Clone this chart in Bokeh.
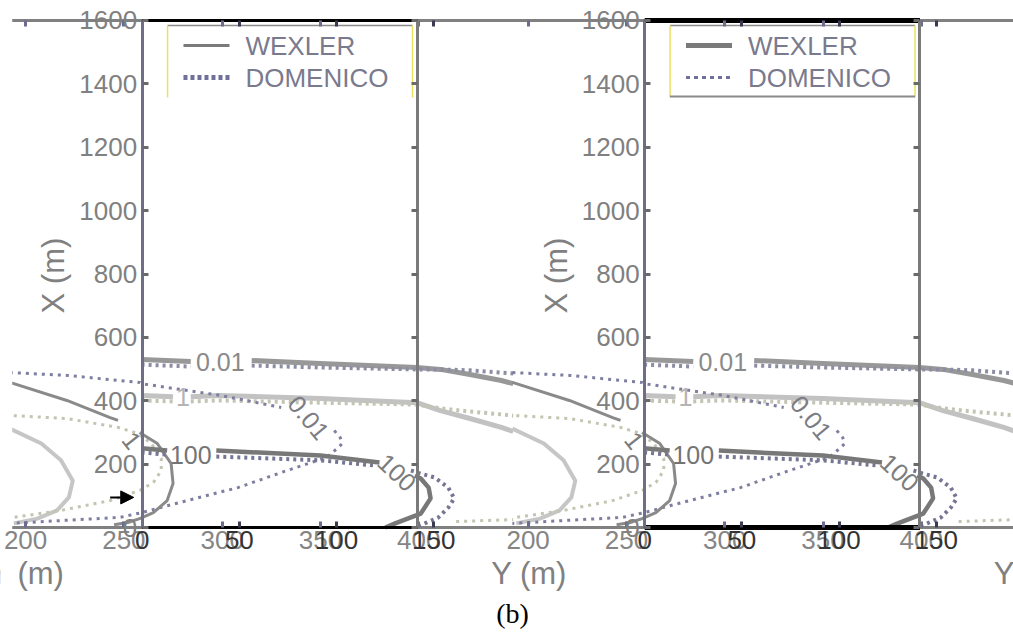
import numpy as np
from bokeh.plotting import figure
from bokeh.models import Range1d, LinearAxis, FixedTicker, Arrow, NormalHead
from bokeh.core.properties import value
from bokeh.embed import file_html
from bokeh.resources import INLINE

nan = float("nan")

# ---------------- data (horizontal = Y (m), vertical = X (m)) ----------------
y_ticks = [0, 200, 400, 600, 800, 1000, 1200, 1400, 1600]
gray_x_ticks = [200, 250, 300, 350, 400]
black_x_ticks = [0, 50, 100, 150]

# WEXLER contours (solid)
wex_001_Y = [259, 284, nan, 315, 350, 399, 411, 426, 442, 448]
wex_001_X = [530, 524, nan, 527, 518, 505, 499, 483, 464, 454]
wex_1_Y = [259, 275, nan, 284, 298, 350, 399, 411, 426, 442, 448]
wex_1_X = [417, 413, nan, 413, 417, 407, 394, 369, 344, 316, 303]
wex_100_Y = [259, 272, nan, 297, 350, 380, nan, 398, 401, 405, 406, 401, 388, 383]
wex_100_X = [250, 243, nan, 243, 227, 205, nan, 164, 155, 126, 92, 44, 13, 0]
wex_1c_Y = [192, 221, 243, 247, nan, 258, 267, 274, 275, 272, 265, 258, 252, 245]
wex_1c_X = [458, 401, 347, 338, nan, 300, 265, 202, 139, 85, 47, 28, 16, 9]
wex_lc_Y = [192, 208, 218, 224, 222, 216, 206, 194]
wex_lc_X = [312, 265, 212, 148, 95, 54, 28, 13]

# DOMENICO contours (dotted)
dom_001_Y = [259, 284, nan, 315, 350, 399, 411, 426, 442, 448]
dom_001_X = [514, 508, nan, 511, 505, 499, 499, 496, 489, 486]
dom_1_Y = [259, 275, nan, 284, 298, 350, 399, 411, 426, 442, 448]
dom_1_X = [401, 398, nan, 398, 401, 394, 388, 376, 366, 357, 353]
dom_100_Y = [259, 272, nan, 297, 350, 377, nan, 396, 401, 408, 415, 418, 415, 410, 403, 398]
dom_100_X = [237, 230, nan, 224, 212, 196, nan, 180, 170, 158, 126, 92, 63, 32, 13, 0]
dom_loop_Y = [192, 221, 258, 259, 299, 330, nan, 357, 360, 361, 359, 353, 333, 308, 282, 259, 248, 218, 192]
dom_loop_X = [489, 480, 458, 454, 417, 379, nan, 306, 284, 265, 252, 221, 180, 126, 85, 47, 32, 22, 13]
dom_lc_Y = [194, 221, 247, 257, 264, 269, 269, 265, 258, 243, 218, 194, nan, 419, 448]
dom_lc_X = [353, 344, 316, 297, 265, 218, 180, 142, 117, 85, 54, 32, nan, 19, 25]

# contour labels
lab_text = ["0.01", "1", "100", "0.01", "100", "1"]
lab_Y = [299, 280, 284, 344, 389, 254]
lab_X = [521, 413, 230, 347, 174, 275]
lab_angle = [0, 0, 0, -0.88, -0.75, -0.9]
lab_color = ["#8a8a8a", "#b4b4b4", "#747474", "#7c7c84", "#7c7c7c", "#7c7c7c"]

# arrow
arrow_Y = [243, 255]
arrow_X = [95, 95]

legend_names = ["WEXLER", "DOMENICO"]

# ---------------- layout constants ----------------
X0, X1 = 187.23, 702.49          # visible Y-range (gray scale)
V0, V1 = -340.7, 1663.1          # visible X-range
OFF = 255.6                      # shift between the two repeated panels
FRAME_L, FRAME_R = 259.3, 399.3
B_START, B_END, B_SHIFT = -72.93, 448.4, 258.6
FONT = "Liberation Sans"
FS = "26px"
TS = "31px"

p = figure(width=1013, height=635, x_range=Range1d(X0, X1), y_range=Range1d(V0, V1),
           output_backend="svg", toolbar_location=None,
           x_axis_location=None, y_axis_location=None, min_border=0,
           outline_line_color=None, background_fill_color="white")
p.xgrid.visible = False
p.ygrid.visible = False

p.extra_x_ranges = {
    "g0": Range1d(X0, X1), "g1": Range1d(X0 - OFF, X1 - OFF),
    "b0": Range1d(B_START, B_END), "b1": Range1d(B_START - B_SHIFT, B_END - B_SHIFT),
}

def arr(a, off=0.0):
    return np.array(a, dtype=float) + off

# long gray top / bottom lines
p.segment(x0=[192.3, 192.3], y0=[0, 1600], x1=[X1, X1], y1=[0, 1600],
          line_color="#808080", line_width=3)

for k in (0, 1):
    o = k * OFF
    # light contours first
    p.line(arr(wex_lc_Y, o), arr(wex_lc_X), line_color="#c6c6c6", line_width=4)
    p.line(arr(wex_1_Y, o), arr(wex_1_X), line_color="#c2c2c2", line_width=5)
    p.line(arr(dom_lc_Y, o), arr(dom_lc_X), line_color="#c4c4b0", line_width=3, line_dash="3 5")
    p.line(arr(dom_1_Y, o), arr(dom_1_X), line_color="#c4c4b4", line_width=4, line_dash="3 4")
    # medium / dark contours
    p.line(arr(wex_001_Y, o), arr(wex_001_X), line_color="#989898", line_width=5)
    p.line(arr(dom_001_Y, o), arr(dom_001_X), line_color="#8c8ca4", line_width=4, line_dash="3 4")
    p.line(arr(dom_loop_Y, o), arr(dom_loop_X), line_color="#7e7ea0", line_width=3, line_dash="3 5")
    p.line(arr(wex_1c_Y, o), arr(wex_1c_X), line_color="#8a8a8a", line_width=3)
    p.line(arr(dom_100_Y, o), arr(dom_100_X), line_color="#767694", line_width=4, line_dash="3 4")
    p.line(arr(wex_100_Y, o), arr(wex_100_X), line_color="#787878", line_width=4.5)

    # contour labels
    p.text(x=arr(lab_Y, o), y=arr(lab_X), text=lab_text, angle=lab_angle,
           text_color=lab_color, text_font=value(FONT), text_font_size=value("25px"),
           text_align="center", text_baseline="middle")

    # black frame top / bottom
    p.segment(x0=[FRAME_L + o] * 2, y0=[0, 1600], x1=[FRAME_R + o] * 2, y1=[0, 1600],
              line_color="black", line_width=3 if k == 0 else 5)

    # y axis (left frame)
    ya = LinearAxis(fixed_location=FRAME_L + o, ticker=FixedTicker(ticks=y_ticks), bounds=(0, 1600),
                    axis_line_color="#6e6e86", axis_line_width=3,
                    major_tick_in=6, major_tick_out=0, major_tick_line_width=3,
                    major_tick_line_color="#6a6a6a", minor_tick_line_color=None,
                    major_label_text_font=FONT, major_label_text_font_size=FS,
                    major_label_text_color="#808080", major_label_standoff=5)
    p.add_layout(ya, "left")
    # right frame line with ticks
    yr = LinearAxis(fixed_location=FRAME_R + o, ticker=FixedTicker(ticks=y_ticks), bounds=(0, 1600),
                    axis_line_color="#7a7a7a", axis_line_width=3,
                    major_tick_in=6, major_tick_out=0, major_tick_line_width=3,
                    major_tick_line_color="#6a6a6a", minor_tick_line_color=None,
                    major_label_text_color=None)
    p.add_layout(yr, "right")

    # bottom / top axes: gray (200..400) and black (0..150)
    for side, loc in (("below", 0), ("above", 1600)):
        ga = LinearAxis(x_range_name=f"g{k}", fixed_location=loc, ticker=FixedTicker(ticks=gray_x_ticks),
                        axis_line_color=None, major_tick_in=6, major_tick_out=0,
                        major_tick_line_width=3, major_tick_line_color="#6c6c90",
                        minor_tick_line_color=None, major_label_text_font=FONT,
                        major_label_text_font_size=FS,
                        major_label_text_color="#858585" if side == "below" else None,
                        major_label_standoff=3)
        p.add_layout(ga, side)
        ba = LinearAxis(x_range_name=f"b{k}", fixed_location=loc, ticker=FixedTicker(ticks=black_x_ticks),
                        axis_line_color=None, major_tick_in=6, major_tick_out=0,
                        major_tick_line_width=3, major_tick_line_color="#3a3a50",
                        minor_tick_line_color=None, major_label_text_font=FONT,
                        major_label_text_font_size=FS,
                        major_label_text_color="#333333" if side == "below" else None,
                        major_label_standoff=3)
        p.add_layout(ba, side)

    # axis title X (m)
    p.text(x=[214.4 + o], y=[795], text=["X (m)"], angle=np.pi / 2, text_color="#808080",
           text_font=value(FONT), text_font_size=value(TS), text_align="center",
           text_baseline="middle")

    # legend box
    p.segment(x0=[272.2 + o], y0=[1584], x1=[396.8 + o], y1=[1584], line_color="#8a8a8a", line_width=1.5)
    p.segment(x0=[272.2 + o, 396.8 + o], y0=[1584, 1584], x1=[272.2 + o, 396.8 + o], y1=[1357, 1357],
              line_color="#ece060", line_width=1.5)
    if k == 1:
        p.segment(x0=[272.2 + o], y0=[1360], x1=[396.8 + o], y1=[1360], line_color="#8a8a8a", line_width=2)
    p.line([280.3 + o, 303.7 + o], [1521, 1521], line_color="#7a7a7a", line_width=3 if k == 0 else 5)
    p.line([280.3 + o, 303.7 + o], [1420, 1420], line_color="#70709a",
           line_width=5 if k == 0 else 3, line_dash="4 3" if k == 0 else "4 4")
    p.text(x=[311.8 + o, 311.8 + o], y=[1521, 1420], text=legend_names, text_color="#7a7a8e",
           text_font=value(FONT), text_font_size=value(FS), text_align="left",
           text_baseline="middle")

# axis title Y (m), repeated across the overlapping copies
p.text(x=[200.5, 200.5 + OFF, 200.5 + 2 * OFF], y=[-145] * 3, text=["Y (m)"] * 3,
       text_color="#808080", text_font=value(FONT), text_font_size=value(TS),
       text_align="center", text_baseline="middle")

# cropped strip at the left edge (the reference image starts ~10 px in)
p.quad(left=[X0 - 1], right=[193.2], bottom=[V0 - 10], top=[V1 + 10],
       fill_color="white", line_color=None)

# arrow
p.add_layout(Arrow(x_start=arrow_Y[0], y_start=arrow_X[0], x_end=arrow_Y[1], y_end=arrow_X[1],
                   line_color="black", line_width=2,
                   end=NormalHead(size=13, fill_color="black", line_color="black")))

# panel caption
p.text(x=[447.7], y=[-271], text=["(b)"], text_color="black",
       text_font=value("Liberation Serif"), text_font_size=value("28px"),
       text_align="center", text_baseline="middle")

open("out.html", "w").write(file_html(p, INLINE))
